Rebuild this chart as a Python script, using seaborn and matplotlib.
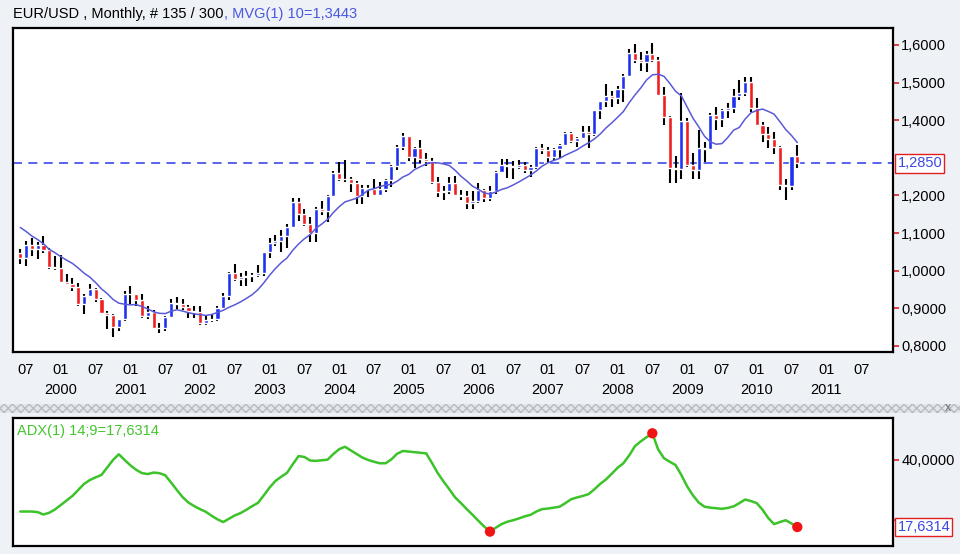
import numpy as np
import pandas as pd
import matplotlib
matplotlib.use('Agg')
from matplotlib import pyplot as plt
from matplotlib.patches import Rectangle
import matplotlib.transforms as mtransforms
import seaborn as sns

# EUR/USD monthly candles, Jun 1999 .. Aug 2010 (135 bars)
opens = [
    1.046, 1.035, 1.069, 1.059, 1.068, 1.055, 1.009,                      # 1999
    1.006, 0.971, 0.965, 0.957, 0.912, 0.934, 0.952, 0.924, 0.888, 0.883, 0.851, 0.871,  # 2000
    0.939, 0.938, 0.921, 0.880, 0.889, 0.847, 0.849, 0.876, 0.913, 0.911, 0.904, 0.894,  # 2001
    0.889, 0.860, 0.869, 0.872, 0.902, 0.934, 0.993, 0.977, 0.983, 0.986, 0.989, 0.993,  # 2002
    1.049, 1.074, 1.079, 1.091, 1.117, 1.183, 1.150, 1.124, 1.099, 1.165, 1.159, 1.199,  # 2003
    1.260, 1.245, 1.245, 1.232, 1.198, 1.220, 1.218, 1.202, 1.217, 1.241, 1.277, 1.329,  # 2004
    1.357, 1.303, 1.325, 1.296, 1.292, 1.236, 1.210, 1.213, 1.234, 1.202, 1.199, 1.179,  # 2005
    1.184, 1.215, 1.192, 1.211, 1.262, 1.282, 1.279, 1.276, 1.281, 1.267, 1.276, 1.325,  # 2006
    1.320, 1.302, 1.323, 1.335, 1.365, 1.345, 1.353, 1.369, 1.363, 1.426, 1.450, 1.464,  # 2007
    1.459, 1.482, 1.518, 1.579, 1.560, 1.555, 1.576, 1.561, 1.468, 1.409, 1.272, 1.270,  # 2008
    1.397, 1.280, 1.267, 1.325, 1.324, 1.414, 1.403, 1.426, 1.433, 1.464, 1.472, 1.502,  # 2009
    1.433, 1.387, 1.362, 1.351, 1.330, 1.227, 1.224, 1.305,                      # 2010
]
highs = [
    1.058, 1.079, 1.088, 1.075, 1.093, 1.060, 1.040,
    1.041, 0.992, 0.981, 0.968, 0.938, 0.966, 0.955, 0.927, 0.894, 0.884, 0.873, 0.946,
    0.960, 0.939, 0.939, 0.906, 0.895, 0.861, 0.880, 0.924, 0.930, 0.925, 0.908, 0.905,
    0.907, 0.879, 0.885, 0.905, 0.940, 0.997, 1.019, 0.995, 0.999, 0.995, 1.014, 1.050,
    1.087, 1.094, 1.108, 1.123, 1.193, 1.193, 1.164, 1.144, 1.168, 1.184, 1.200, 1.265,
    1.290, 1.293, 1.249, 1.238, 1.228, 1.227, 1.243, 1.236, 1.244, 1.282, 1.334, 1.367,
    1.358, 1.329, 1.348, 1.314, 1.299, 1.248, 1.226, 1.249, 1.252, 1.215, 1.211, 1.212,
    1.233, 1.216, 1.224, 1.265, 1.298, 1.298, 1.291, 1.295, 1.290, 1.280, 1.330, 1.337,
    1.329, 1.325, 1.338, 1.368, 1.368, 1.355, 1.385, 1.385, 1.428, 1.452, 1.497, 1.477,
    1.490, 1.524, 1.590, 1.602, 1.582, 1.584, 1.604, 1.567, 1.487, 1.412, 1.305, 1.472,
    1.406, 1.312, 1.374, 1.343, 1.419, 1.434, 1.430, 1.445, 1.484, 1.506, 1.514, 1.514,
    1.458, 1.394, 1.382, 1.369, 1.332, 1.244, 1.306, 1.333,
]
lows = [
    1.019, 1.012, 1.040, 1.030, 1.047, 1.005, 1.002,
    0.969, 0.961, 0.945, 0.905, 0.885, 0.930, 0.916, 0.886, 0.845, 0.823, 0.840, 0.866,
    0.911, 0.905, 0.875, 0.872, 0.844, 0.835, 0.840, 0.875, 0.899, 0.895, 0.874, 0.875,
    0.857, 0.857, 0.863, 0.866, 0.901, 0.923, 0.972, 0.959, 0.959, 0.969, 0.984, 0.987,
    1.035, 1.066, 1.050, 1.061, 1.116, 1.133, 1.118, 1.077, 1.076, 1.148, 1.129, 1.196,
    1.239, 1.236, 1.208, 1.176, 1.176, 1.195, 1.201, 1.199, 1.208, 1.223, 1.268, 1.322,
    1.292, 1.273, 1.287, 1.279, 1.230, 1.197, 1.187, 1.204, 1.199, 1.187, 1.164, 1.164,
    1.180, 1.183, 1.185, 1.205, 1.261, 1.246, 1.245, 1.269, 1.261, 1.248, 1.271, 1.310,
    1.286, 1.292, 1.300, 1.331, 1.340, 1.328, 1.352, 1.326, 1.358, 1.404, 1.434, 1.434,
    1.443, 1.448, 1.516, 1.551, 1.531, 1.529, 1.554, 1.466, 1.388, 1.233, 1.233, 1.244,
    1.275, 1.244, 1.245, 1.288, 1.320, 1.374, 1.383, 1.405, 1.420, 1.453, 1.464, 1.422,
    1.386, 1.343, 1.327, 1.311, 1.214, 1.188, 1.215, 1.273,
]
closes = [
    1.035, 1.069, 1.059, 1.068, 1.055, 1.009, 1.006,
    0.971, 0.965, 0.957, 0.912, 0.934, 0.952, 0.924, 0.888, 0.883, 0.851, 0.871, 0.939,
    0.938, 0.921, 0.880, 0.889, 0.847, 0.849, 0.876, 0.913, 0.911, 0.904, 0.894, 0.889,
    0.860, 0.869, 0.872, 0.902, 0.934, 0.993, 0.977, 0.983, 0.986, 0.989, 0.993, 1.049,
    1.074, 1.079, 1.091, 1.117, 1.183, 1.150, 1.124, 1.099, 1.165, 1.159, 1.199, 1.260,
    1.245, 1.245, 1.232, 1.198, 1.220, 1.218, 1.202, 1.217, 1.241, 1.277, 1.329, 1.357,
    1.303, 1.325, 1.296, 1.292, 1.236, 1.210, 1.213, 1.234, 1.202, 1.199, 1.179, 1.184,
    1.215, 1.192, 1.211, 1.262, 1.282, 1.279, 1.276, 1.281, 1.267, 1.276, 1.325, 1.320,
    1.302, 1.323, 1.335, 1.365, 1.345, 1.353, 1.369, 1.363, 1.426, 1.450, 1.464, 1.459,
    1.482, 1.518, 1.579, 1.560, 1.555, 1.576, 1.561, 1.468, 1.409, 1.272, 1.270, 1.397,
    1.280, 1.267, 1.325, 1.324, 1.414, 1.403, 1.426, 1.433, 1.464, 1.472, 1.502, 1.433,
    1.387, 1.362, 1.351, 1.330, 1.227, 1.224, 1.305, 1.285,
]
# closes Sep 1998 .. May 1999, only used to warm up the 10 month average
pre_closes = [1.175, 1.181, 1.162, 1.167, 1.156, 1.098, 1.076, 1.057, 1.043]

# ADX(14;9), one value per month
adx = [
    22.8, 22.8, 22.8, 22.6, 21.8, 22.4, 23.5,
    25.0, 26.5, 28.0, 30.0, 32.0, 33.3, 34.2, 35.0, 37.5, 40.0, 41.9, 40.0,
    38.2, 36.7, 35.6, 35.3, 35.8, 35.6, 34.9, 32.5, 30.0, 27.6, 25.8, 24.6,
    23.6, 22.7, 21.4, 20.2, 19.3, 20.4, 21.5, 22.3, 23.4, 24.6, 25.7, 28.2,
    30.8, 33.0, 34.4, 35.7, 38.6, 41.3, 41.0, 39.8, 39.7, 39.9, 40.1, 42.0,
    43.6, 44.4, 43.2, 42.0, 40.8, 40.0, 39.4, 38.9, 38.9, 40.2, 42.1, 43.0,
    42.8, 42.6, 42.4, 42.2, 39.0, 35.6, 32.8, 30.2, 27.5, 25.6, 23.6, 21.7,
    19.7, 17.8, 16.1, 17.4, 18.6, 19.4, 19.9, 20.5, 21.2, 21.7, 22.8, 23.6,
    23.8, 24.1, 24.4, 25.6, 26.9, 27.5, 28.0, 28.6, 30.2, 32.0, 33.5, 35.4,
    37.4, 38.9, 41.5, 44.6, 46.2, 47.6, 48.9, 43.5, 40.6, 39.4, 38.3, 35.0,
    31.2, 28.2, 25.8, 24.4, 24.1, 23.9, 23.7, 24.0, 24.5, 25.6, 26.8, 26.3,
    25.6, 23.4, 20.6, 18.6, 19.3, 19.9, 18.8, 17.63,
]
adx_marks = [81, 109, 134]   # months flagged with red dots

last_price = 1.2850
y_ticks = [0.8, 0.9, 1.0, 1.1, 1.2, 1.4, 1.5, 1.6]

df = pd.DataFrame({'i': np.arange(len(closes)), 'open': opens, 'high': highs,
                   'low': lows, 'close': closes, 'adx': adx})
df['ma'] = pd.Series(pre_closes + closes).rolling(10).mean().iloc[len(pre_closes):].values
up = df['close'] >= df['open']

sns.set_style('white')
plt.rcParams['font.family'] = ['Liberation Sans', 'DejaVu Sans']

bg = '#eef1f5'
fig = plt.figure(figsize=(9.6, 5.54), dpi=100, facecolor=bg)
ax = fig.add_axes([13/960, 1-352/554, 880/960, 324/554])
ax2 = fig.add_axes([13/960, 1-546/554, 880/960, 128/554])

# candles
ax.vlines(df['i'], df['low'], df['high'], color='black', lw=1.5, zorder=2)
ax.bar(df['i'][up], (df['close'] - df['open'])[up], bottom=df['open'][up],
       width=0.72, color='#1e32f0', zorder=3)
ax.bar(df['i'][~up], (df['open'] - df['close'])[~up], bottom=df['close'][~up],
       width=0.72, color='#f01e1e', zorder=3)
sns.lineplot(data=df, x='i', y='ma', ax=ax, color='#5a5ad8', lw=1.1, zorder=4)
ax.axhline(last_price, color='#4a58e8', lw=1.3, ls=(0, (5, 3.5)), zorder=1)

ax.set_xlim(-1.25, 150.5)
ax.set_ylim(0.784, 1.645)
ax.set_xlabel('')
ax.set_ylabel('')

xt = list(range(1, 146, 6))
xl = []
for k in xt:
    if (k - 1) % 12 == 0:
        xl.append('07')
    else:
        xl.append('01\n%d' % (1999 + (k + 5) // 12))
ax.set_xticks(xt)
ax.set_xticklabels(xl)
for t in ax.get_xticklabels():
    t.set_linespacing(1.5)
ax.yaxis.tick_right()
ax.set_yticks(y_ticks)
ax.set_yticklabels([('%.4f' % v).replace('.', ',') for v in y_ticks])
ax.tick_params(axis='both', color='#e02020', labelcolor='black', length=4, width=1.2,
               direction='out', labelsize=10.5, pad=2)
ax.tick_params(axis='x', pad=4)
for s in ax.spines.values():
    s.set_color('black')
    s.set_linewidth(1.6)

trans = mtransforms.blended_transform_factory(ax.transAxes, ax.transData)
ax.text(1.005, last_price, ('%.4f' % last_price).replace('.', ','), transform=trans,
        color='#3a4ae0', fontsize=10.5, va='center', ha='left', clip_on=False, zorder=10,
        bbox=dict(boxstyle='square,pad=0.15', fc='white', ec='#e02020', lw=1))

# ADX panel
sns.lineplot(data=df, x='i', y='adx', ax=ax2, color='#3cc32a', lw=1.8)
sns.scatterplot(data=df.iloc[adx_marks], x='i', y='adx', ax=ax2, color='#f01414',
                s=55, edgecolor='none', zorder=5)
ax2.set_xlim(-1.25, 150.5)
ax2.set_ylim(11.3, 54)
ax2.set_xlabel('')
ax2.set_ylabel('')
ax2.set_xticks([])
ax2.yaxis.tick_right()
# the 20 level label sits under the value box, so only its tick is kept
ax2.set_yticks([20, 40])
ax2.set_yticklabels(['', '40,0000'])
ax2.tick_params(axis='y', color='#e02020', labelcolor='black', length=4, width=1.2,
                direction='out', labelsize=10.5, pad=2)
for s in ax2.spines.values():
    s.set_color('black')
    s.set_linewidth(1.6)
ax2.text(0.004, 0.95, 'ADX(1) 14;9=17,6314', transform=ax2.transAxes, color='#44c52e',
         fontsize=10.5, va='top', ha='left')
trans2 = mtransforms.blended_transform_factory(ax2.transAxes, ax2.transData)
ax2.text(1.005, adx[-1], '17,6314', transform=trans2, color='#3a4ae0', fontsize=10.5,
         va='center', ha='left', clip_on=False, zorder=10,
         bbox=dict(boxstyle='square,pad=0.15', fc='white', ec='#e02020', lw=1))

# title line
t1 = fig.text(13/960, 1-14/554, 'EUR/USD , Monthly, # 135 / 300', fontsize=10.5,
              color='black', va='center', ha='left')
ax.annotate(', MVG(1) 10=1,3443', xy=(1, 0.5), xycoords=t1, va='center', ha='left',
            fontsize=10.5, color='#4a58e0', annotation_clip=False)

# separator strip between the panels
fig.patches.append(Rectangle((0, 1-413/554), 1, 9/554, transform=fig.transFigure,
                             fc='#e4e6ea', ec='#b8bcc4', hatch='xxxx', lw=0, zorder=0))
fig.text(948/960, 1-408/554, 'x', fontsize=9, color='#707070', va='center', ha='center')

fig.savefig('out.png', dpi=100, facecolor=bg)
